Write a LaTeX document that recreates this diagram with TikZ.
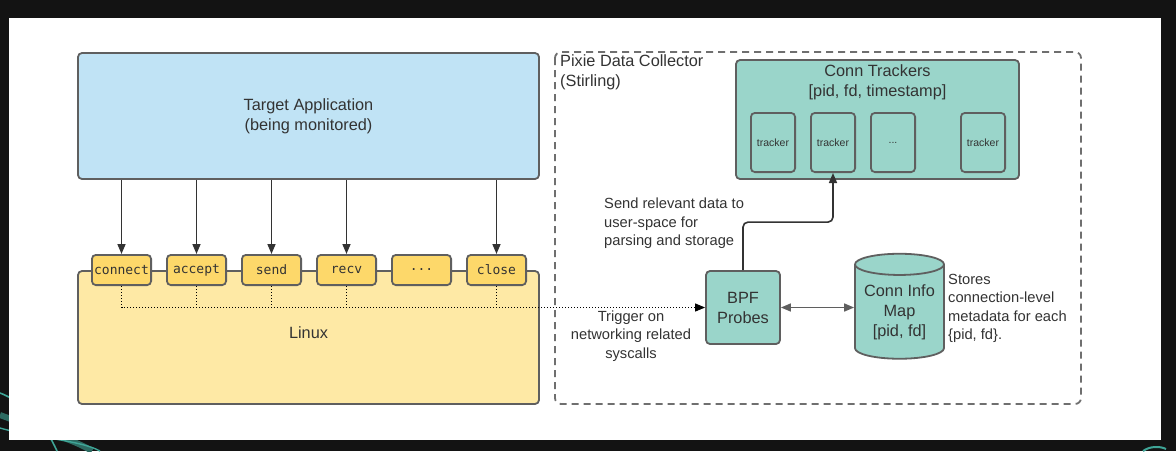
\documentclass[tikz,border=0pt]{standalone}
\usepackage{fontspec}
\setmainfont{Liberation Sans}
\setmonofont{DejaVu Sans Mono}
\usetikzlibrary{positioning, shapes.geometric, arrows.meta}
\definecolor{bgdark}{HTML}{131313}
\definecolor{edge}{HTML}{5F5F5F}
\definecolor{ink}{HTML}{333333}
\definecolor{appblue}{HTML}{C0E3F5}
\definecolor{kernel}{HTML}{FEE9A5}
\definecolor{syscallfill}{HTML}{FDD86A}
\definecolor{pixie}{HTML}{9AD5CA}
\definecolor{swoosh}{HTML}{3FA597}
\newcommand{\bigtext}{\fontsize{16.3}{20}\selectfont}
\newcommand{\midtext}{\fontsize{14.7}{18.5}\selectfont}

\begin{document}
\begin{tikzpicture}[x=1pt, y=-1pt, >={Triangle[length=10pt, width=8pt]}, text=ink,
    box/.style={draw=edge, line width=1.8pt, rounded corners=4pt, inner sep=0pt, font=\bigtext, align=center},
    syscall/.style={box, fill=syscallfill, minimum width=59.2pt, minimum height=30.2pt, font=\ttfamily\fontsize{13}{15}\selectfont},
    tracker/.style={box, fill=pixie, minimum width=44.2pt, minimum height=59.2pt, font=\fontsize{10.5}{12}\selectfont},
    call/.style={->, draw=ink, line width=1.6pt},
    note/.style={font=\midtext, align=left, inner sep=0pt}]
    \useasboundingbox (0,0) rectangle (1176,451);
    \fill[bgdark] (0,0) rectangle (1176,451);
    \draw[swoosh, line width=1.6pt] (0,393) .. controls (30,405) and (45,425) .. (57,451);
    \draw[swoosh!60!bgdark, line width=6pt] (0,415) .. controls (40,430) and (75,440) .. (92,451);
    \draw[swoosh, line width=1.4pt] (0,428) .. controls (35,438) and (80,440) .. (100,451);
    \draw[swoosh, line width=2pt] (1143,451) .. controls (1150,446) and (1160,446) .. (1166,449);
    \fill[white] (9,18) rectangle (1161,440);

    \node[box, fill=appblue, minimum width=461pt, minimum height=126pt] (target) at (308.5,116) {Target Application\\(being monitored)};
    \node[box, fill=kernel, minimum width=461pt, minimum height=133pt] (linux) at (308.5,337.5) {};
    \node[font=\bigtext] (linuxlabel) at (308.5,333) {Linux};

    \node[syscall] (connect) at (121.5,270) {connect};
    \node[syscall, right=14pt of connect] (accept) {accept};
    \node[syscall, right=14pt of accept] (send) {send};
    \node[syscall, right=14pt of send] (recv) {recv};
    \node[syscall, right=14pt of recv] (more) {...};
    \node[syscall, right=14pt of more] (close) {close};

    \draw[dash pattern=on 7pt off 5pt, draw=edge!90, line width=1.8pt, rounded corners=6pt]
        (555,52) rectangle (1081,404);
    \node[font=\bigtext, align=left, anchor=north west, inner sep=0pt] (stirling) at (560,54) {Pixie Data Collector\\(Stirling)};

    \node[box, fill=pixie, minimum width=283pt, minimum height=119pt] (conns) at (877.5,119.5) {};
    \node[font=\bigtext, align=center] (connslabel) at (877.5,82) {Conn Trackers\\{}[pid, fd, timestamp]};
    \node[tracker] (trk1) at (773,142.5) {tracker};
    \node[tracker, right=14pt of trk1] (trk2) {tracker};
    \node[tracker, right=14pt of trk2] (trk3) {...};
    \node[tracker, right=44pt of trk3] (trk4) {tracker};

    \node[box, fill=pixie, minimum width=74pt, minimum height=73pt] (bpf) at (743,307.5) {BPF\\Probes};
    \node[draw=edge, line width=1.8pt, fill=pixie, shape=cylinder, shape border rotate=90, aspect=0.3,
          minimum width=89pt, minimum height=105pt, inner sep=0pt, font=\bigtext, align=center]
          (infomap) at (899.5,312) {Conn Info\\Map\\{}[pid, fd]};

    \foreach \sc in {connect, accept, send, recv, close}
        \draw[call] (\sc |- target.south) -- (\sc.north);
    \foreach \sc in {accept, send, recv, close}
        \draw[dotted, line width=1pt] (\sc.south) -- (\sc.south |- bpf.west);
    \draw[dotted, line width=1pt, ->] (connect.south) |- (bpf.west);

    \draw[call, rounded corners=5pt] (bpf.north) -- ++(0,-48) -| (trk2.south);
    \draw[<->, draw=edge, line width=1.6pt] (bpf.east) -- (bpf.east -| infomap.west);

    \node[note, anchor=west] (sendnote) at (604,223.5) {Send relevant data to\\user-space for\\parsing and storage};
    \node[note, align=center] (trignote) at (631,336) {Trigger on\\networking related\\syscalls};
    \node[note, anchor=west] (storenote) at (948,308.5) {Stores\\connection-level\\metadata for each\\\{pid, fd\}.};
\end{tikzpicture}
\end{document}
